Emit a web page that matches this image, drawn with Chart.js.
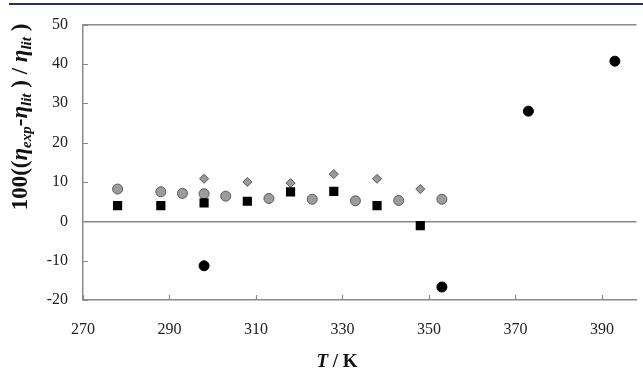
<!DOCTYPE html>
<html lang="en">
<head>
<meta charset="UTF-8">
<title>Viscosity deviation vs temperature</title>
<style>
  html, body { margin: 0; padding: 0; background: #fff; }
  #wrap { position: absolute; left: 0; top: 0; width: 643px; height: 370px; }
  #topRule { position: absolute; left: 9px; top: 3px; width: 634px; height: 2px; background: #25306a; }
</style>
<script src="https://cdn.jsdelivr.net/npm/chart.js@4.4.0/dist/chart.umd.min.js"></script>
</head>
<body>
<div id="wrap"><canvas id="devChart"></canvas></div>
<div id="topRule"></div>
<script>
// tick values
const xTicks = [270, 290, 310, 330, 350, 370, 390];
const yTicks = [-20, -10, 0, 10, 20, 30, 40, 50];

// black circles
const blackT = [298, 353, 373, 393];
const blackDev = [-11.3, -16.7, 28.0, 40.7];

// black squares
const squareT = [278, 288, 298, 308, 318, 328, 338, 348];
const squareDev = [4.0, 4.0, 4.7, 5.1, 7.5, 7.6, 4.0, -1.1];

// grey circles
const greyT = [278, 288, 293, 298, 303, 313, 323, 333, 343, 353];
const greyDev = [8.2, 7.5, 7.1, 7.0, 6.4, 5.8, 5.6, 5.2, 5.3, 5.6];

// grey diamonds
const diamondT = [298, 308, 318, 328, 338, 348];
const diamondDev = [10.8, 10.0, 9.7, 12.0, 10.8, 8.2];

function pts(xs, ys) {
  return xs.map((x, i) => ({ x: x, y: ys[i] }));
}

const axisGrey = '#8a8a8a';
const serif = '"Liberation Serif", "Times New Roman", serif';

// small tick marks pointing into the plot
const innerTicks = {
  id: 'innerTicks',
  beforeDatasetsDraw(chart) {
    const { ctx, chartArea, scales } = chart;
    ctx.save();
    ctx.strokeStyle = axisGrey;
    ctx.lineWidth = 1.2;
    ctx.beginPath();
    xTicks.forEach(v => {
      const px = Math.round(scales.x.getPixelForValue(v)) + 0.5;
      ctx.moveTo(px, chartArea.bottom);
      ctx.lineTo(px, chartArea.bottom - 5);
    });
    yTicks.forEach(v => {
      const py = Math.round(scales.y.getPixelForValue(v)) + 0.5;
      ctx.moveTo(chartArea.left, py);
      ctx.lineTo(chartArea.left + 5, py);
    });
    ctx.stroke();
    ctx.restore();
  }
};

// axis titles with italic eta and subscripts
const axisTitles = {
  id: 'axisTitles',
  afterDraw(chart) {
    const ctx = chart.ctx;
    ctx.save();
    ctx.fillStyle = '#111';
    ctx.textBaseline = 'middle';

    const big = 23, small = 15;
    const parts = [
      { t: '100((', f: 'bold ' + big + 'px ' + serif },
      { t: 'η', f: 'italic bold ' + big + 'px ' + serif },
      { t: 'exp', f: 'italic bold ' + small + 'px ' + serif, sub: true },
      { t: '-', f: 'bold ' + big + 'px ' + serif },
      { t: 'η', f: 'italic bold ' + big + 'px ' + serif },
      { t: 'lit', f: 'italic bold ' + small + 'px ' + serif, sub: true },
      { t: ' ) / ', f: 'bold ' + big + 'px ' + serif },
      { t: 'η', f: 'italic bold ' + big + 'px ' + serif },
      { t: 'lit', f: 'italic bold ' + small + 'px ' + serif, sub: true },
      { t: ' )', f: 'bold ' + big + 'px ' + serif }
    ];
    let total = 0;
    parts.forEach(p => { ctx.font = p.f; p.w = ctx.measureText(p.t).width; total += p.w; });
    ctx.translate(21, 117);
    ctx.rotate(-Math.PI / 2);
    let cx = -total / 2;
    parts.forEach(p => {
      ctx.font = p.f;
      ctx.fillText(p.t, cx, p.sub ? 6 : 0);
      cx += p.w;
    });
    ctx.restore();

    // x title
    ctx.save();
    ctx.fillStyle = '#111';
    ctx.textBaseline = 'middle';
    const tFont = 'italic bold 19px ' + serif;
    const kFont = 'bold 19px ' + serif;
    ctx.font = tFont;
    const wT = ctx.measureText('T').width;
    ctx.font = kFont;
    const wK = ctx.measureText(' / K').width;
    let sx = 337 - (wT + wK) / 2;
    ctx.font = tFont;
    ctx.fillText('T', sx, 362);
    ctx.font = kFont;
    ctx.fillText(' / K', sx + wT, 362);
    ctx.restore();
  }
};

function createChart() {
  const ctx = document.getElementById('devChart').getContext('2d');
  new Chart(ctx, {
    type: 'scatter',
    data: {
      datasets: [
        {
          label: 'black circles',
          data: pts(blackT, blackDev),
          pointStyle: 'circle',
          pointRadius: 5,
          backgroundColor: '#000',
          borderColor: '#000',
          borderWidth: 1
        },
        {
          label: 'squares',
          data: pts(squareT, squareDev),
          pointStyle: 'rect',
          pointRadius: 6.5,
          backgroundColor: '#000',
          borderColor: '#000',
          borderWidth: 0
        },
        {
          label: 'diamonds',
          data: pts(diamondT, diamondDev),
          pointStyle: 'rectRot',
          pointRadius: 4.5,
          backgroundColor: '#9a9a9a',
          borderColor: '#555',
          borderWidth: 1
        },
        {
          label: 'grey circles',
          data: pts(greyT, greyDev),
          pointStyle: 'circle',
          pointRadius: 5,
          backgroundColor: '#9c9c9c',
          borderColor: '#5a5a5a',
          borderWidth: 1
        }
      ]
    },
    options: {
      responsive: true,
      maintainAspectRatio: false,
      animation: false,
      layout: { padding: { top: 22, left: 0, right: 0, bottom: 0 } },
      plugins: {
        legend: { display: false },
        tooltip: { enabled: false }
      },
      scales: {
        x: {
          type: 'linear',
          min: 270,
          max: 398,
          afterBuildTicks: s => { s.ticks = xTicks.map(v => ({ value: v })); },
          afterFit: s => { s.height = 70; },
          grid: { display: true, color: 'rgba(0,0,0,0)', drawTicks: false },
          border: { display: true, color: axisGrey, width: 1.5 },
          ticks: { padding: 20, color: '#222', font: { family: serif, size: 16 } }
        },
        y: {
          type: 'linear',
          min: -20,
          max: 50,
          afterBuildTicks: s => { s.ticks = yTicks.map(v => ({ value: v })); },
          afterFit: s => { s.width = 83; },
          grid: {
            display: true,
            drawTicks: false,
            lineWidth: 1.5,
            color: c => (c.tick && (c.tick.value === 0 || c.tick.value === 50)) ? axisGrey : 'rgba(0,0,0,0)'
          },
          border: { display: true, color: axisGrey, width: 1.5 },
          ticks: { padding: 15, color: '#222', font: { family: serif, size: 16 } }
        }
      }
    },
    plugins: [innerTicks, axisTitles]
  });
}

createChart();
</script>
</body>
</html>
